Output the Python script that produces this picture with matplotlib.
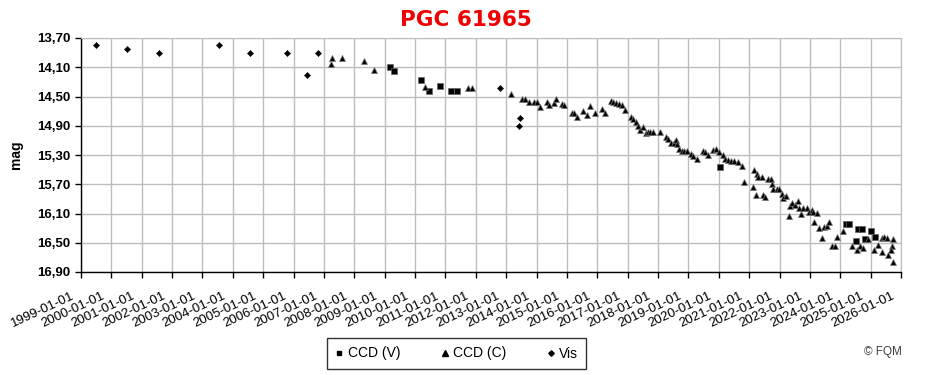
import matplotlib
matplotlib.use("Agg")
import matplotlib.pyplot as plt
import matplotlib.dates as mdates
from matplotlib.ticker import FixedLocator, FuncFormatter
from matplotlib.lines import Line2D
from matplotlib.transforms import ScaledTranslation
import datetime as dt

# ---------------- data (decimal year, magnitude) ----------------
ccd_v_year = [2009.17, 2009.31, 2010.19, 2010.46, 2010.81, 2011.17, 2011.38,
              2020.04, 2024.19, 2024.30, 2024.59, 2024.71, 2025.01, 2025.14,
              2024.52, 2024.82]
ccd_v_mag = [14.09, 14.15, 14.28, 14.42, 14.35, 14.42, 14.43,
             15.46, 16.24, 16.24, 16.31, 16.31, 16.34, 16.42,
             16.47, 16.45]

ccd_c_year = [2007.26, 2007.23, 2007.58, 2008.32, 2008.65, 2010.34, 2011.74, 2011.88,
              2013.16, 2013.52, 2013.63, 2013.75, 2013.93, 2014.02, 2014.11, 2014.33,
              2014.42, 2014.57, 2014.64, 2014.83, 2014.90, 2015.18, 2015.23, 2015.34,
              2015.53, 2015.66, 2015.76, 2015.93, 2016.16, 2016.26, 2016.44, 2016.52,
              2016.62, 2016.72, 2016.81, 2016.91, 2017.11, 2017.19, 2017.27, 2017.35,
              2017.41, 2017.52, 2017.59, 2017.66, 2017.74, 2017.82, 2018.07, 2018.26,
              2018.34, 2018.43, 2018.53, 2018.58, 2018.61, 2018.68, 2018.78, 2018.86,
              2018.96, 2019.08, 2019.16, 2019.27, 2019.47, 2019.55, 2019.65, 2019.80,
              2019.91, 2020.02, 2020.13, 2020.22, 2020.31, 2020.39, 2020.50, 2020.64,
              2020.75, 2020.83, 2021.12, 2021.17, 2021.25, 2021.23, 2021.30, 2021.42,
              2021.45, 2021.53, 2021.61, 2021.71, 2021.75, 2021.80, 2021.91, 2021.99,
              2022.07, 2022.13, 2022.21, 2022.31, 2022.35, 2022.42, 2022.51, 2022.60,
              2022.64, 2022.71, 2022.78, 2022.89, 2022.98, 2023.06, 2023.11, 2023.22,
              2023.14, 2023.30, 2023.40, 2023.48, 2023.55, 2023.64, 2023.72, 2023.83,
              2023.88, 2024.08, 2024.40, 2024.54, 2024.65, 2024.76, 2024.92, 2025.12,
              2025.23, 2025.36, 2025.45, 2025.53, 2025.38, 2025.58, 2025.69, 2025.72,
              2025.74, 2025.67]
ccd_c_mag = [13.97, 14.05, 13.98, 14.02, 14.14, 14.37, 14.39, 14.39,
             14.46, 14.54, 14.54, 14.57, 14.58, 14.58, 14.64, 14.58,
             14.61, 14.59, 14.54, 14.60, 14.62, 14.73, 14.73, 14.78,
             14.70, 14.75, 14.63, 14.73, 14.67, 14.72, 14.56, 14.58,
             14.59, 14.60, 14.62, 14.68, 14.78, 14.81, 14.85, 14.90,
             14.96, 14.92, 15.00, 14.98, 14.99, 14.99, 14.99, 15.06,
             15.08, 15.14, 15.14, 15.09, 15.15, 15.22, 15.25, 15.24,
             15.24, 15.28, 15.31, 15.35, 15.25, 15.26, 15.30, 15.23,
             15.22, 15.26, 15.30, 15.35, 15.37, 15.38, 15.38, 15.40,
             15.45, 15.67, 15.74, 15.51, 15.56, 15.85, 15.60, 15.60,
             15.85, 15.87, 15.63, 15.63, 15.70, 15.76, 15.77, 15.77,
             15.84, 15.89, 15.86, 16.14, 16.00, 15.95, 15.99, 15.93,
             16.02, 16.11, 16.03, 16.02, 16.08, 16.05, 16.08, 16.09,
             16.21, 16.30, 16.44, 16.29, 16.27, 16.21, 16.55, 16.54,
             16.42, 16.34, 16.54, 16.60, 16.55, 16.57, 16.45, 16.60,
             16.53, 16.43, 16.42, 16.43, 16.62, 16.67, 16.55, 16.45,
             16.77, 16.60]

vis_year = [1999.49, 2000.50, 2001.58, 2003.53, 2004.55, 2005.77, 2006.43,
            2006.79, 2012.80, 2013.44, 2013.42]
vis_mag = [13.80, 13.85, 13.90, 13.80, 13.90, 13.90, 14.20,
           13.90, 14.39, 14.79, 14.90]

y_ticks = [13.70, 14.10, 14.50, 14.90, 15.30, 15.70, 16.10, 16.50, 16.90]
title = "PGC 61965"
series_labels = ["CCD (V)", "CCD (C)", "Vis"]


def to_date(y):
    yr = int(y)
    start = dt.datetime(yr, 1, 1)
    end = dt.datetime(yr + 1, 1, 1)
    return start + (end - start) * (y - yr)


W, H = 931, 375
fig = plt.figure(figsize=(W / 100, H / 100), dpi=100)
fig.patch.set_facecolor("white")
ax = fig.add_axes([81 / W, 1 - 272 / H, (901 - 81) / W, (272 - 38) / H])

grid_c = "#BDBDBD"
ax.plot([to_date(v) for v in ccd_v_year], ccd_v_mag, ls="none", marker="s",
        ms=4.6, mfc="black", mec="#666666", mew=0.5, zorder=3)
ax.plot([to_date(v) for v in ccd_c_year], ccd_c_mag, ls="none", marker="^",
        ms=5.0, mfc="black", mec="#777777", mew=0.5, zorder=3)
ax.plot([to_date(v) for v in vis_year], vis_mag, ls="none", marker="D",
        ms=3.2, mfc="black", mec="black", mew=0.3, zorder=3)

ax.set_xlim(dt.datetime(1999, 1, 1), dt.datetime(2026, 1, 1))
ax.set_ylim(16.90, 13.70)
ax.yaxis.set_major_locator(FixedLocator(y_ticks))
ax.yaxis.set_major_formatter(FuncFormatter(lambda v, p: f"{v:.2f}".replace(".", ",")))
ax.xaxis.set_major_locator(mdates.YearLocator(1))
ax.xaxis.set_major_formatter(mdates.DateFormatter("%Y-%m-%d"))

ax.grid(True, color=grid_c, lw=1.0, zorder=0)
ax.set_axisbelow(True)
for s in ["top", "right"]:
    ax.spines[s].set_color(grid_c)
for s in ["left", "bottom"]:
    ax.spines[s].set_color("black")
    ax.spines[s].set_linewidth(1.0)

ax.tick_params(axis="both", direction="out", length=4, width=1, color="black")
ax.tick_params(axis="x", pad=9)
for lab in ax.get_yticklabels():
    lab.set_fontfamily("Liberation Sans")
    lab.set_fontweight("bold")
    lab.set_fontsize(9.5)
shift = ScaledTranslation(-5 / 100, 0, fig.dpi_scale_trans)
for lab in ax.get_xticklabels():
    lab.set_fontfamily("Liberation Sans")
    lab.set_fontsize(9.5)
    lab.set_rotation(25)
    lab.set_ha("right")
    lab.set_va("top")
    lab.set_transform(lab.get_transform() + shift)

ax.set_ylabel("mag", fontfamily="Liberation Sans", fontweight="bold", fontsize=10)
ax.yaxis.set_label_coords(-58 / (901 - 81), 0.5)

fig.text(466 / W, 1 - 20 / H, title, color="#F00000", fontsize=15.5,
         fontweight="bold", family="DejaVu Sans", ha="center", va="center")

handles = [
    Line2D([], [], ls="none", marker="s", ms=3.5, mfc="black", mec="black"),
    Line2D([], [], ls="none", marker="^", ms=3.8, mfc="black", mec="black"),
    Line2D([], [], ls="none", marker="D", ms=2.8, mfc="black", mec="black"),
]
leg = fig.legend(handles, series_labels, ncol=3, loc="center",
                 bbox_to_anchor=(456.5 / W, 1 - 353.5 / H),
                 prop={"family": "Liberation Sans", "size": 10},
                 frameon=True, fancybox=False, edgecolor="black",
                 handlelength=0.6, handletextpad=0.3, columnspacing=2.9,
                 borderpad=0.6)
leg.get_frame().set_linewidth(1.0)

fig.text(902 / W, 1 - 352 / H, "© FQM", color="#404040", fontsize=8.5,
         family="Liberation Sans", ha="right", va="center")

fig.savefig("out.png", dpi=100, facecolor="white")
